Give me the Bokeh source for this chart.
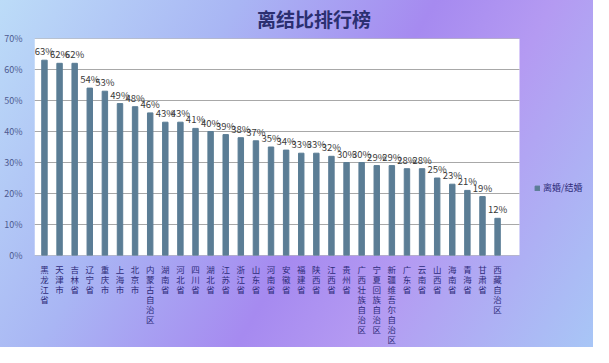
from bokeh.plotting import figure
from bokeh.models import (ColumnDataSource, FixedTicker, NumeralTickFormatter, Range1d, Legend,
                          LegendItem, Title, BoxAnnotation)
from bokeh.core.properties import value
from bokeh.embed import file_html
from bokeh.resources import INLINE

provinces = ["黑龙江省", "天津市", "吉林省", "辽宁省", "重庆市", "上海市", "北京市", "内蒙古自治区",
             "湖南省", "河北省", "四川省", "湖北省", "江苏省", "浙江省", "山东省", "河南省",
             "安徽省", "福建省", "陕西省", "江西省", "贵州省", "广西壮族自治区", "宁夏回族自治区",
             "新疆维吾尔自治区", "广东省", "云南省", "山西省", "海南省", "青海省", "甘肃省", "西藏自治区"]
ratios = [63, 62, 62, 54, 53, 49, 48, 46, 43, 43, 41, 40, 39, 38, 37, 35,
          34, 33, 33, 32, 30, 30, 29, 29, 28, 28, 25, 23, 21, 19, 12]
y_ticks = [0, 0.1, 0.2, 0.3, 0.4, 0.5, 0.6, 0.7]

FONT = "Noto Sans CJK SC"
TIGHT = "Liberation Sans, Noto Sans CJK SC"
idx = list(range(len(provinces)))
src = ColumnDataSource(dict(
    x=idx,
    top=[v / 100 for v in ratios],
    lbl=[f"{v}%" for v in ratios],
))

# white plotting area spans these x limits; frame continues to the right for the legend
area_lo, area_hi = -0.66, 31.45
p = figure(width=593, height=347, output_backend="svg", toolbar_location=None,
           x_range=Range1d(area_lo, 36.35), y_range=Range1d(0, 0.7),
           min_border_left=34, min_border_right=0, min_border_top=37, min_border_bottom=20)
p.border_fill_color = None
p.background_fill_color = None
p.styles = {"background-image": "linear-gradient(120deg, #bcdcf8 0%, #a9b6f4 30%, #a68af0 55%, #b49af2 70%, #a8c6f6 100%)"}
p.outline_line_color = None

p.add_layout(BoxAnnotation(left=area_lo, right=area_hi, fill_color="white", fill_alpha=1,
                           line_color=None, level="underlay"))

p.title = Title(text="离结比排行榜", align="center", text_font=TIGHT, text_font_size="19px",
                text_color="#2b2f70", text_font_style="bold", offset=20, standoff=15)

p.segment(x0=[area_lo] * len(y_ticks), x1=[area_hi] * len(y_ticks), y0=y_ticks, y1=y_ticks,
          line_color="#a8a8a8", line_width=1)

r = p.vbar(x="x", top="top", width=0.36, source=src, color="#5b7d95")
p.text(x="x", y="top", text="lbl", source=src, text_align="center", text_baseline="bottom",
       y_offset=-2, text_font=value(FONT), text_font_size="9.5px", text_color="#3a3a3a")

p.xaxis.ticker = FixedTicker(ticks=idx)
p.xaxis.major_label_overrides = {i: "\n".join(list(n)) for i, n in enumerate(provinces)}
p.xaxis.major_label_text_font = TIGHT
p.xaxis.major_label_text_font_size = "8.5px"
p.xaxis.major_label_text_line_height = 1.0
p.xaxis.major_label_text_color = "#2e2c7a"
p.xaxis.axis_line_color = None
p.xaxis.major_tick_line_color = None
p.xaxis.minor_tick_line_color = None
p.xaxis.major_label_standoff = 3

p.yaxis.ticker = FixedTicker(ticks=y_ticks)
p.yaxis.formatter = NumeralTickFormatter(format="0%")
p.yaxis.major_label_text_font = FONT
p.yaxis.major_label_text_font_size = "9px"
p.yaxis.major_label_text_color = "#4e5a90"
p.yaxis.axis_line_color = None
p.yaxis.major_tick_line_color = None
p.yaxis.minor_tick_line_color = None
p.yaxis.major_label_standoff = 6

p.xgrid.grid_line_color = None
p.ygrid.grid_line_color = None

legend = Legend(items=[LegendItem(label="离婚/结婚", renderers=[r])], location=(500, 61),
                background_fill_alpha=0, border_line_color=None,
                label_text_font=FONT, label_text_font_size="9px", label_text_color="#2e2c7a",
                glyph_width=6, glyph_height=6, label_standoff=3, padding=2, margin=0, spacing=0)
p.add_layout(legend, "center")

open("out.html", "w").write(file_html(p, INLINE))
